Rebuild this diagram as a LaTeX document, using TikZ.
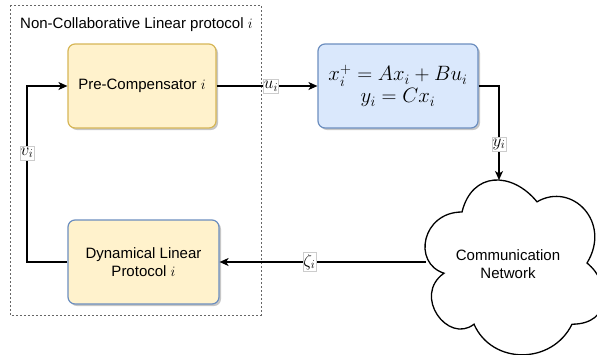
\documentclass[tikz,border=0pt]{standalone}
\usepackage{fontspec}
\setmainfont{Liberation Sans}
\usetikzlibrary{arrows.meta,shadows}
\definecolor{yfill}{HTML}{FFF2CC}
\definecolor{ydraw}{HTML}{D6B656}
\definecolor{bfill}{HTML}{DAE8FC}
\definecolor{bdraw}{HTML}{6C8EBF}
\tikzset{
  blockbox/.style={rectangle, rounded corners=7pt, line width=1.2pt, minimum height=84pt,
    align=center, font=\fontsize{15}{18}\selectfont,
    drop shadow={shadow xshift=2pt, shadow yshift=-2pt, fill=black, opacity=0.22}},
  conn/.style={line width=1.3pt},
  arr/.style={conn, -{Stealth[length=9pt,width=8pt,inset=2.5pt]}},
  lbl/.style={fill=white, draw=black!20, line width=0.5pt, inner xsep=0.6pt, inner ysep=2pt, font=\fontsize{17}{20}\selectfont},
  txt/.style={font=\fontsize{15}{18}\selectfont, align=center, inner sep=0pt},
}
\begin{document}
\begin{tikzpicture}[x=1pt,y=-1pt]
\useasboundingbox (0,0) rectangle (597,354);
% dashed container
\draw[black!60, line width=0.9pt, dash pattern=on 2pt off 2pt] (10,5) rectangle (261,315);
\node[txt, anchor=west] (title) at (20,25) {Non-Collaborative Linear protocol $i$};
% blocks
\node[blockbox, fill=yfill, draw=ydraw, minimum width=148pt] (pre) at (142,86) {Pre-Compensator $i$};
\node[blockbox, fill=bfill, draw=bdraw, minimum width=160pt, font=\fontsize{20}{22}\selectfont] (plant) at (398,86)
  {$x_i^+ = Ax_i + Bu_i$\\[0pt]$y_i = Cx_i$};
\node[blockbox, fill=yfill, draw=bdraw, minimum width=151pt] (dlp) at (143.5,262) {Dynamical Linear\\Protocol $i$};
% cloud
\draw[line width=1.3pt, fill=white]
  (462,212) .. controls (422,212) and (412,263) .. (444,273.2)
  .. controls (412,295.6) and (448,344.6) .. (474,324.2)
  .. controls (492,365) and (552,365) .. (572,324.2)
  .. controls (612,324.2) and (612,283.4) .. (587,263)
  .. controls (612,222.2) and (572,181.4) .. (537,201.8)
  .. controls (512,171.2) and (472,171.2) .. (462,212) -- cycle;
\node[txt] (net) at (508,264) {Communication\\Network};
\coordinate (cloudtop) at (499,180);
\coordinate (cloudleft) at (426,262);
\coordinate (c1) at (27,262);
\coordinate (c2) at (27,86);
% connectors
\draw[arr] (pre.east) -- node[lbl, pos=0.54] (ul) {$u_i$} (plant.west);
\draw[arr] (plant.east) -| node[lbl, pos=0.81] (yl) {$y_i$} (cloudtop);
\draw[arr] (cloudleft) -- node[lbl, pos=0.565] (zl) {$\zeta_i$} (dlp.east);
\draw[arr] (dlp.west) -- (c1) -- node[lbl, pos=0.62] (vl) {$v_i$} (c2) -- (pre.west);
\end{tikzpicture}
\end{document}
